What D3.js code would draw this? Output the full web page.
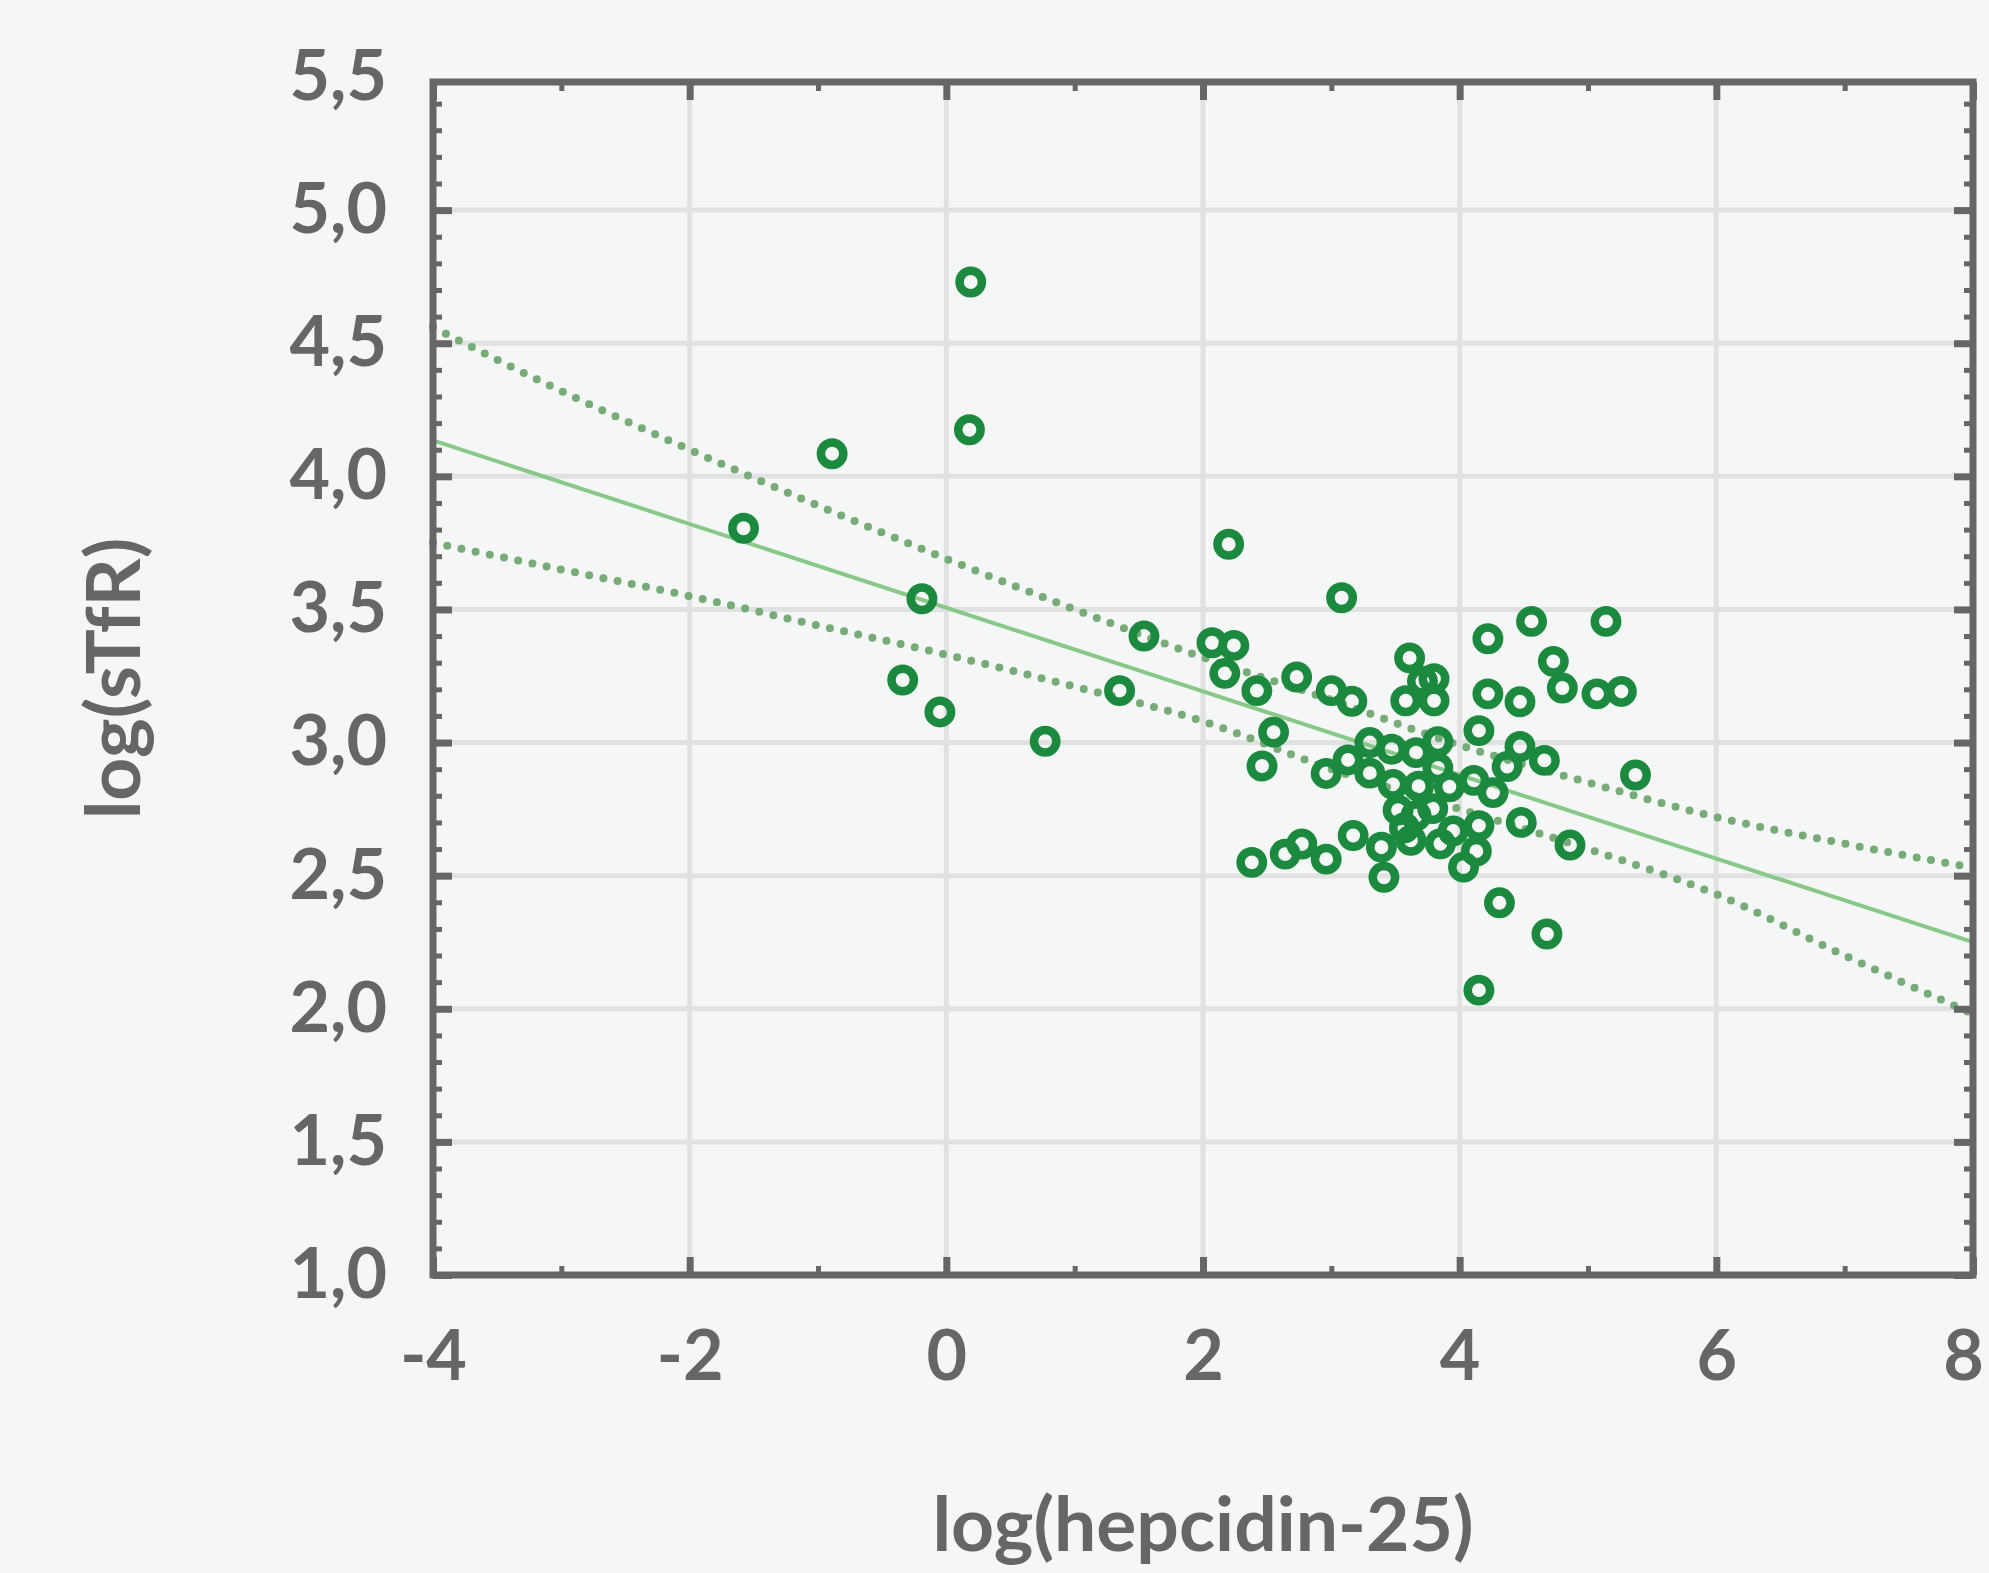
<!DOCTYPE html>
<html>
<head>
<meta charset="utf-8">
<script src="https://cdn.jsdelivr.net/npm/d3@7"></script>
<style>
  html, body { margin: 0; padding: 0; background: #f5f6f6; }
  svg { display: block; }
  text { font-family: Lato, "Open Sans", sans-serif; font-weight: 700; fill: #666; }
</style>
</head>
<body>
<svg id="chart" width="1989" height="1573"></svg>
<script>
// ---- data ----
const hepcidin = [
  0.19, 0.18, -0.89, -1.58, -0.19, -0.34, -0.05, 0.77, 1.35, 1.54,
  2.20, 2.07, 2.24, 2.17, 2.42, 2.73, 3.00, 3.16, 3.08, 3.61,
  3.71, 3.80, 3.58, 3.80, 4.22, 4.56, 5.14, 4.73, 4.80, 4.22,
  4.47, 5.07, 5.26, 2.55, 2.46, 2.96, 3.13, 3.30, 3.47, 3.66,
  3.83, 3.30, 3.48, 3.68, 3.83, 3.92, 4.11, 4.15, 4.26, 4.37,
  4.47, 4.66, 5.37, 3.52, 3.66, 3.79, 3.57, 3.62, 3.17, 3.39,
  3.85, 3.95, 4.15, 4.13, 4.03, 2.96, 3.41, 4.48, 4.86, 2.38,
  2.64, 2.77, 4.31, 4.68, 4.15
];
const sTfR = [
  4.73, 4.175, 4.085, 3.805, 3.54, 3.235, 3.115, 3.005, 3.195, 3.40,
  3.745, 3.375, 3.365, 3.26, 3.195, 3.246, 3.195, 3.155, 3.544, 3.318,
  3.23, 3.24, 3.157, 3.157, 3.39, 3.455, 3.455, 3.305, 3.205, 3.183,
  3.153, 3.183, 3.192, 3.039, 2.912, 2.884, 2.935, 3.0, 2.975, 2.962,
  3.003, 2.885, 2.843, 2.836, 2.905, 2.834, 2.858, 3.045, 2.812, 2.91,
  2.985, 2.933, 2.878, 2.746, 2.725, 2.752, 2.68, 2.633, 2.651, 2.607,
  2.62, 2.668, 2.688, 2.592, 2.532, 2.562, 2.494, 2.70, 2.615, 2.55,
  2.581, 2.619, 2.398, 2.281, 2.07
];

// regression line end points
const fitX = [-4, 8];
const fitY = [4.135, 2.25];

// confidence band (dotted), read at these x positions
const bandX     = [-4,   -3,   -2,   -1,   0,    1,    2,    3,    4,    5,    6,    7,    8];
const bandUpper = [4.56, 4.32, 4.10, 3.89, 3.69, 3.50, 3.32, 3.16, 2.99, 2.85, 2.72, 2.62, 2.53];
const bandLower = [3.75, 3.65, 3.55, 3.44, 3.33, 3.21, 3.08, 2.90, 2.75, 2.60, 2.43, 2.20, 1.98];

// ticks
const xTicks = [-4, -2, 0, 2, 4, 6, 8];
const xMinor = [-3, -1, 1, 3, 5, 7];
const yTicks = [1.0, 1.5, 2.0, 2.5, 3.0, 3.5, 4.0, 4.5, 5.0, 5.5];
const yMinor = [1.1,1.2,1.3,1.4,1.6,1.7,1.8,1.9,2.1,2.2,2.3,2.4,2.6,2.7,2.8,2.9,
                3.1,3.2,3.3,3.4,3.6,3.7,3.8,3.9,4.1,4.2,4.3,4.4,4.6,4.7,4.8,4.9,5.1,5.2,5.3,5.4];
const xTitle = "log(hepcidin-25)";
const yTitle = "log(sTfR)";

// ---- layout ----
const L = 433, R = 1973, T = 82, B = 1275;
const axisColor = "#666";
const svg = d3.select("#chart");

const x = d3.scaleLinear().domain([-4, 8]).range([L, R]);
const y = d3.scaleLinear().domain([1, 5.5]).range([B, 77]);

// grid
const grid = svg.append("g");
grid.selectAll(".vg").data(xTicks.filter(d => d > -4 && d < 8)).enter().append("line")
  .attr("x1", d => x(d)).attr("x2", d => x(d)).attr("y1", T).attr("y2", B)
  .attr("stroke", "#e0e1e1").attr("stroke-width", 5);
grid.selectAll(".hg").data(yTicks.filter(d => d > 1 && d < 5.5)).enter().append("line")
  .attr("x1", L).attr("x2", R).attr("y1", d => y(d)).attr("y2", d => y(d))
  .attr("stroke", "#e0e1e1").attr("stroke-width", 5);

// confidence band
const bandLine = d3.line().curve(d3.curveMonotoneX).x(d => x(d[0])).y(d => y(d[1]));
[bandUpper, bandLower].forEach(arr => {
  svg.append("path")
    .datum(bandX.map((v, i) => [v, arr[i]]))
    .attr("d", bandLine)
    .attr("fill", "none")
    .attr("stroke", "#77ab77")
    .attr("stroke-width", 8)
    .attr("stroke-linecap", "round")
    .attr("stroke-dasharray", "0 14.5");
});

// regression line
svg.append("path")
  .datum(fitX.map((v, i) => [v, fitY[i]]))
  .attr("d", d3.line().x(d => x(d[0])).y(d => y(d[1])))
  .attr("fill", "none").attr("stroke", "#88c888").attr("stroke-width", 4);

// points
svg.append("g").selectAll("circle").data(hepcidin.map((v, i) => [v, sTfR[i]])).enter()
  .append("circle")
  .attr("cx", d => x(d[0])).attr("cy", d => y(d[1])).attr("r", 11.2)
  .attr("fill", "none").attr("stroke", "#1b8a3e").attr("stroke-width", 8.5);

// inward ticks
function ticks(axisFn, scale, vals, size, width, transform) {
  const g = svg.append("g").attr("transform", transform)
    .call(axisFn(scale).tickValues(vals).tickSize(size).tickFormat(""));
  g.select(".domain").remove();
  g.selectAll("line").attr("stroke", axisColor).attr("stroke-width", width);
}
ticks(d3.axisRight, y, yTicks.filter(d => d < 5.5), 19, 7, `translate(${L},0)`);
ticks(d3.axisRight, y, yMinor, 9, 5, `translate(${L},0)`);
ticks(d3.axisLeft, y, yTicks.filter(d => d < 5.5), 19, 7, `translate(${R},0)`);
ticks(d3.axisLeft, y, yMinor, 9, 5, `translate(${R},0)`);
ticks(d3.axisTop, x, xTicks, 18, 7, `translate(0,${B})`);
ticks(d3.axisTop, x, xMinor, 9, 5, `translate(0,${B})`);
ticks(d3.axisBottom, x, xTicks, 18, 7, `translate(0,${T})`);
ticks(d3.axisBottom, x, xMinor, 9, 5, `translate(0,${T})`);

// frame
svg.append("rect").attr("x", L).attr("y", T).attr("width", R - L).attr("height", B - T)
  .attr("fill", "none").attr("stroke", axisColor).attr("stroke-width", 7);

// tick labels
const yl = svg.append("g").attr("transform", `translate(${L},0)`)
  .call(d3.axisLeft(y).tickValues(yTicks).tickSize(0).tickPadding(46)
    .tickFormat(d => d.toFixed(1).replace(".", ",")));
yl.select(".domain").remove();
yl.selectAll("text").style("font-size", "70px").attr("fill", axisColor)
  .style("font-family", "Lato, sans-serif").style("font-weight", 700);

const xl = svg.append("g").attr("transform", `translate(0,${B})`)
  .call(d3.axisBottom(x).tickValues(xTicks).tickSize(0).tickPadding(55)
    .tickFormat(d => String(d).replace("\u2212", "-")));
xl.select(".domain").remove();
xl.selectAll("text").style("font-size", "70px").attr("fill", axisColor)
  .style("font-family", "Lato, sans-serif").style("font-weight", 700)
  .attr("dx", d => d === 8 ? -10 : 0);

// titles
svg.append("text").attr("x", (L + R) / 2).attr("y", 1551)
  .attr("text-anchor", "middle").style("font-size", "75px").text(xTitle);
svg.append("text").attr("transform", `translate(140,${(T + B) / 2}) rotate(-90)`)
  .attr("text-anchor", "middle").style("font-size", "75px").text(yTitle);
</script>
</body>
</html>
